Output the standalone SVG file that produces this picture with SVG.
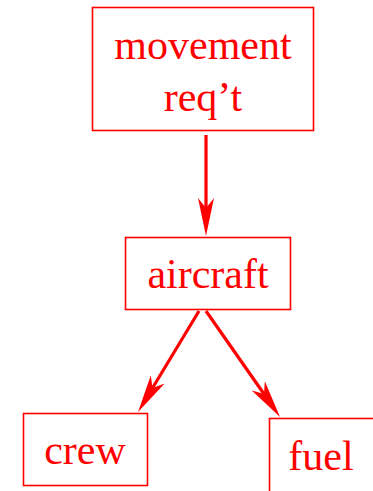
<svg xmlns="http://www.w3.org/2000/svg" width="373" height="491" viewBox="0 0 373 491">
  <style>
    .box { fill: none; stroke: #ff0000; stroke-width: 1.6; }
    .lbl { fill: #ff0000; font-family: "Liberation Serif", "Times New Roman", serif; font-size: 42px; text-anchor: middle; }
    .edge { stroke: #ff0000; stroke-width: 3.2; fill: none; }
  </style>
  <defs>
    <!-- barbed arrowhead; the line stops at the notch (x=10) -->
    <marker id="arrow" markerUnits="userSpaceOnUse" markerWidth="38" markerHeight="16" refX="10" refY="8" viewBox="0 0 38 16" orient="auto">
      <path d="M0,0 L38,8 L0,16 L10,8 Z" fill="#ff0000"/>
    </marker>
  </defs>

  <g id="movement">
    <rect class="box" x="92.5" y="7.5" width="221" height="123"/>
    <text class="lbl" x="203" y="59">movement</text>
    <text class="lbl" x="203" y="111">req’t</text>
  </g>

  <g id="aircraft">
    <rect class="box" x="125.5" y="237.5" width="165" height="72"/>
    <text class="lbl" x="208" y="288">aircraft</text>
  </g>

  <g id="crew">
    <rect class="box" x="23.5" y="413.5" width="124" height="72"/>
    <text class="lbl" x="85" y="464">crew</text>
  </g>

  <g id="fuel">
    <rect class="box" x="269.5" y="418.5" width="110" height="80"/>
    <text class="lbl" x="321" y="470">fuel</text>
  </g>

  <g id="connectors">
    <line class="edge" x1="206" y1="135" x2="206" y2="208" marker-end="url(#arrow)"/>
    <line class="edge" x1="199" y1="311" x2="152.5" y2="388" marker-end="url(#arrow)"/>
    <line class="edge" x1="206" y1="311" x2="264" y2="394" marker-end="url(#arrow)"/>
  </g>
</svg>
